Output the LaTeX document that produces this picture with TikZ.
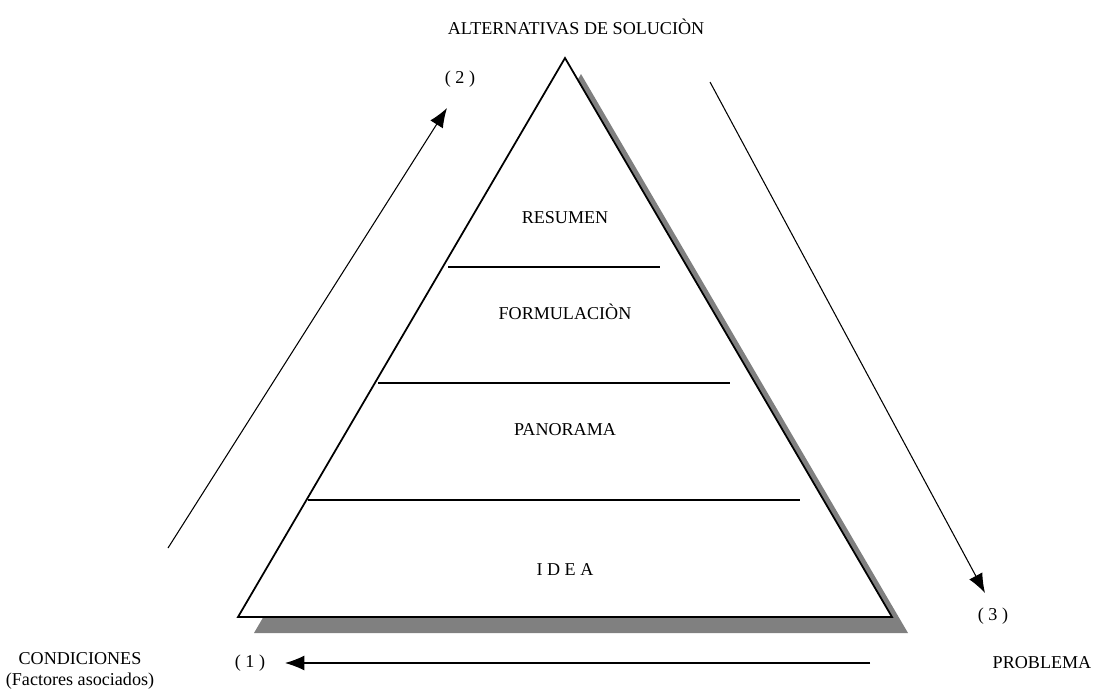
\documentclass[tikz,border=0pt]{standalone}
\usepackage{fontspec}
\setmainfont{Liberation Serif}
\usepackage{tikz}
\usetikzlibrary{arrows.meta}

\begin{document}
\begin{tikzpicture}[x=0.02cm,y=-0.02cm]
      \useasboundingbox(0,0) rectangle (1096,693);
      \tikzset{T/.style = {text=black,font=\fontsize{10.3}{11.5}\selectfont,inner sep=1pt}}
      \tikzset{E/.style = {draw,black,line width=0.6pt,-{Latex[length=11pt,width=8.5pt]}}}
      \tikzset{L/.style = {draw,black,line width=0.8pt}}
      % piramide
      \coordinate (top) at (565,58);
      \coordinate (bl) at (238,617);
      \coordinate (br) at (892,617);
      \fill[black!50] ([shift={(16,16)}]top) -- ([shift={(16,16)}]bl) -- ([shift={(16,16)}]br) -- cycle;
      \filldraw[fill=white,draw=black,line width=1pt,line join=miter] (top) -- (bl) -- (br) -- cycle;
      % niveles
      \coordinate (a1) at (448,267); \coordinate (b1) at (660,267);
      \coordinate (a2) at (378,383); \coordinate (b2) at (730,383);
      \coordinate (a3) at (308,500); \coordinate (b3) at (800,500);
      \draw[L] (a1) -- (b1);
      \draw[L] (a2) -- (b2);
      \draw[L] (a3) -- (b3);
      \node[T](resumen) at (565,218) {RESUMEN};
      \node[T](formul) at (565,312) {FORMULACIÒN};
      \node[T](panorama) at (565,430) {PANORAMA};
      \node[T](idea) at (565,570) {I D E A};
      % textos
      \node[T](alt) at (576,27) {ALTERNATIVAS DE SOLUCIÒN};
      \node[T](n2) at (460,79) {( 2 )};
      \node[T](n3) at (993,616) {( 3 )};
      \node[T](n1) at (250,663) {( 1 )};
      \node[T,align=center](cond) at (80,671) {CONDICIONES\\(Factores asociados)};
      \node[T](prob) at (1042,663) {PROBLEMA};
      % flechas
      \coordinate (s2) at (168,548); \coordinate (e2) at (447,108);
      \coordinate (s3) at (710,82);  \coordinate (e3) at (985,593);
      \coordinate (s1) at (870,663); \coordinate (e1) at (285,663);
      \draw[E] (s2) -- (e2);
      \draw[E] (s3) -- (e3);
      \draw[E] (s1) -- (e1);
    \end{tikzpicture}
\end{document}
